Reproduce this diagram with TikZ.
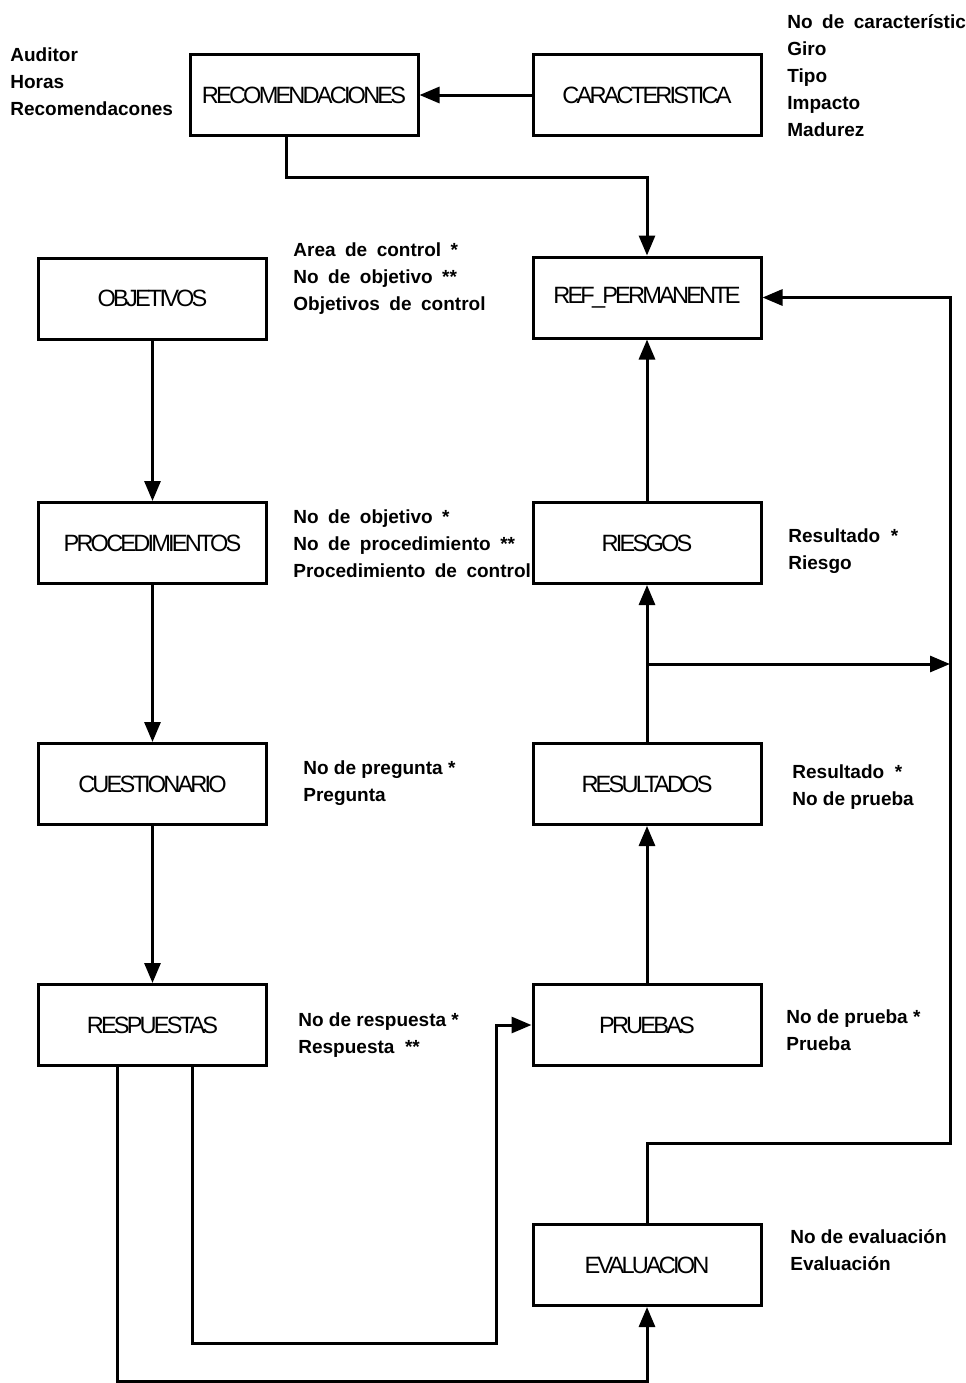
\documentclass[tikz,border=0pt]{standalone}
\usepackage{fontspec}
\setmainfont{Liberation Sans}
\newfontfamily\boxfont[LetterSpace=-12]{Liberation Sans}
\usetikzlibrary{arrows.meta}
\begin{document}
\begin{tikzpicture}[x=0.5pt,y=-0.5pt,
  entity/.style={draw,line width=1.5pt,minimum width=114pt,minimum height=40.5pt,
    inner sep=0pt,font=\boxfont\fontsize{11.8}{14}\selectfont},
  attrs/.style={anchor=west,align=left,inner sep=0pt,
    font=\bfseries\fontsize{9.5}{13.5}\selectfont},
  wide/.append style={execute at begin node={\spaceskip=0.5em plus 0.1em}},
  link/.style={line width=1.5pt},
  arr/.style={line width=1.5pt,-{Triangle[length=10pt,width=8pt]}}]
\clip (0,0) rectangle (965,1383);

% entities
\node[entity] (rec)  at (304,95)     {RECOMENDACIONES};
\node[entity] (car)  at (647,95)     {CARACTERISTICA};
\node[entity] (obj)  at (152.5,298.5) {OBJETIVOS};
\node[entity] (ref)  at (647,297.5)  {REF\_PERMANENTE};
\node[entity] (proc) at (152.5,543)  {PROCEDIMIENTOS};
\node[entity] (ries) at (647,543)    {RIESGOS};
\node[entity] (cues) at (152.5,784)  {CUESTIONARIO};
\node[entity] (resu) at (647,784)    {RESULTADOS};
\node[entity] (resp) at (152.5,1025) {RESPUESTAS};
\node[entity] (prue) at (647,1025)   {PRUEBAS};
\node[entity] (eval) at (647,1265)   {EVALUACION};

% attributes
\node[attrs] (a-rec)  at (10,82)   {Auditor\\Horas\\Recomendacones};
\node[attrs,wide] (a-car) at (787,76) {No de característica\\Giro\\Tipo\\Impacto\\Madurez};
\node[attrs,wide] (a-obj)  at (293,279) {Area de control *\\No de objetivo **\\Objetivos de control};
\node[attrs,wide] (a-proc) at (293,544) {No de objetivo *\\No de procedimiento **\\Procedimiento de control};
\node[attrs] (a-cues) at (303,783)  {No de pregunta *\\Pregunta};
\node[attrs] (a-ries) at (788,551)  {Resultado \ *\\Riesgo};
\node[attrs] (a-resu) at (792,787)  {Resultado \ *\\No de prueba};
\node[attrs] (a-resp) at (298,1035) {No de respuesta *\\Respuesta \ **};
\node[attrs] (a-prue) at (786,1030) {No de prueba *\\Prueba};
\node[attrs] (a-eval) at (790,1250) {No de evaluación\\Evaluación};

% rail coordinates
\coordinate (split) at (647,664);
\coordinate (rail) at (950,664);
\coordinate (evup) at (950,1143);

% connectors
\draw[arr] (car.west) -- (rec.east);
\draw[arr] (286,0 |- rec.south) -- (286,177) -| (ref.north);
\draw[arr] (obj.south) -- (proc.north);
\draw[arr] (proc.south) -- (cues.north);
\draw[arr] (cues.south) -- (resp.north);
\draw[arr] (ries.north) -- (ref.south);
\draw[arr] (resu.north) -- (ries.south);
\draw[arr] (split) -- (rail);
\draw[arr] (prue.north) -- (resu.south);
\draw[arr] (eval.north) |- (evup) |- (ref.east);
\draw[arr] (192,0 |- resp.south) |- (496,1343) |- (prue.west);
\draw[arr] (117,0 |- resp.south) -- (117,1381) -| (eval.south);
\end{tikzpicture}
\end{document}
